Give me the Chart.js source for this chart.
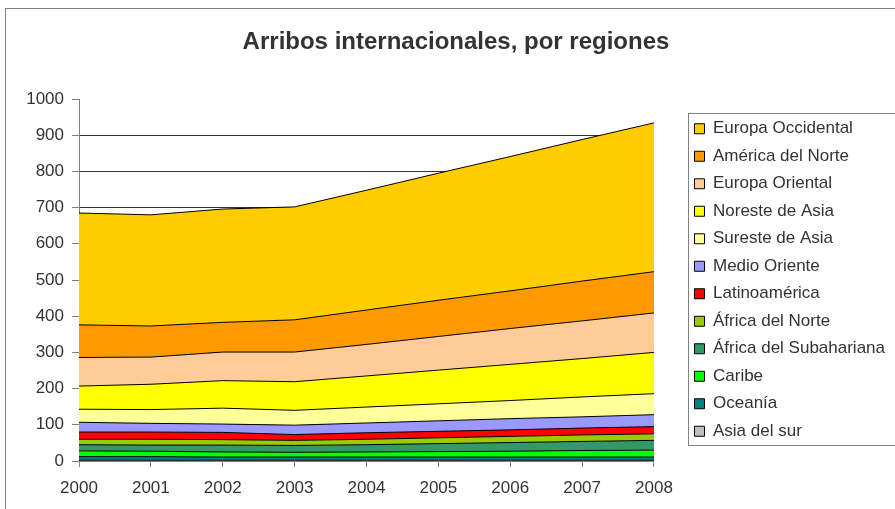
<!DOCTYPE html>
<html>
<head>
<meta charset="utf-8">
<script src="https://cdn.jsdelivr.net/npm/chart.js@4"></script>
<style>
	body{margin:0;background:#fff;}
	#wrap{position:absolute;left:0;top:0;width:895px;height:509px;}
</style>
</head>
<body>
<div id="wrap"><canvas id="grafik-arribos"></canvas></div>
<script>
// datos (millones de arribos, aprox.)
const years = ['2000','2001','2002','2003','2004','2005','2006','2007','2008'];
const asiaSur      = [2, 2, 2, 2, 2, 2, 2, 2, 2];
const oceania      = [10, 10, 9, 9, 9, 9, 9, 9, 9];
const caribe       = [16, 15, 14, 13, 14, 15, 16, 18, 19];
const africaSub    = [17, 17, 19, 19, 20, 22, 24, 25, 27];
const africaNorte  = [15, 16, 15, 14, 15, 16, 17, 18, 18];
const latino       = [20, 20, 20, 16, 18, 18, 18, 19, 20];
const medioOriente = [27, 24, 23, 26, 27, 29, 31, 31, 33];
const suresteAsia  = [36, 38, 44, 41, 44, 47, 50, 55, 58];
const noresteAsia  = [64, 70, 76, 79, 86, 93, 100, 106, 114];
const europaOr     = [79, 75, 79, 82, 87, 93, 99, 104, 109];
const americaNorte = [90, 86, 82, 89, 95, 100, 104, 110, 114];
const europaOcc    = [309, 307, 313, 312, 331, 351, 371, 391, 411];
const yTicks = [0, 100, 200, 300, 400, 500, 600, 700, 800, 900, 1000];

const series = [
	['Asia del sur', asiaSur, '#C0C0C0'],
	['Oceanía', oceania, '#008080'],
	['Caribe', caribe, '#00FF00'],
	['África del Subahariana', africaSub, '#339966'],
	['África del Norte', africaNorte, '#99CC00'],
	['Latinoamérica', latino, '#FF0000'],
	['Medio Oriente', medioOriente, '#9999FF'],
	['Sureste de Asia', suresteAsia, '#FFFF99'],
	['Noreste de Asia', noresteAsia, '#FFFF00'],
	['Europa Oriental', europaOr, '#FFCC99'],
	['América del Norte', americaNorte, '#FF9900'],
	['Europa Occidental', europaOcc, '#FFCC00']
];

const FONT = "'Liberation Sans', Arial, sans-serif";

const frame = {
	id: 'frame',
	beforeDraw(chart) {
		const c = chart.ctx;
		c.save();
		c.fillStyle = '#fff';
		c.fillRect(0, 0, chart.width, chart.height);
		c.restore();
	},
	afterDraw(chart) {
		const c = chart.ctx;
		c.save();
		c.strokeStyle = '#808080';
		c.lineWidth = 1;
		c.strokeRect(5.5, 8.5, 1000, 1000);
		// caja de la leyenda
		const hb = chart.legend.legendHitBoxes;
		if (hb && hb.length) {
			const l = Math.min(...hb.map(h => h.left)) - 6;
			const t = Math.min(...hb.map(h => h.top)) - 7.5;
			const b = Math.max(...hb.map(h => h.top + h.height)) + 4.5;
			c.strokeRect(Math.round(l) + 0.5, Math.round(t) + 0.5, 400, Math.round(b - t));
		}
		c.restore();
	}
};

make_chart = () => {
	const ctx = document.getElementById('grafik-arribos');
	new Chart(ctx, {
		type: 'line',
		data: {
			labels: years,
			datasets: series.map((s, i) => ({
				label: s[0],
				data: s[1],
				backgroundColor: s[2],
				borderColor: '#000',
				borderWidth: 1,
				pointRadius: 0,
				tension: 0,
				fill: i === 0 ? 'origin' : '-1'
			}))
		},
		options: {
			responsive: true,
			maintainAspectRatio: false,
			animation: false,
			layout: { padding: { left: 17, right: 0, top: 0, bottom: 0 } },
			plugins: {
				title: {
					display: true,
					text: 'Arribos internacionales, por regiones',
					color: '#333',
					font: { family: FONT, size: 24, weight: 'bold' },
					padding: { top: 27.6, bottom: 42.6 }
				},
				legend: {
					position: 'right',
					fullSize: false,
					reverse: true,
					maxWidth: 260,
					labels: {
						color: '#333',
						font: { family: FONT, size: 17 },
						boxWidth: 10,
						boxHeight: 10,
						padding: 10.5
					}
				},
				tooltip: { enabled: false }
			},
			scales: {
				x: {
					offset: false,
					grid: { drawOnChartArea: false, tickLength: 6, color: '#808080' },
					border: { color: '#808080' },
					ticks: { color: '#333', font: { family: FONT, size: 17 }, padding: 11, maxRotation: 0 },
					afterFit: (s) => { s.height = 48; }
				},
				y: {
					stacked: true,
					min: 0,
					max: 1000,
					afterBuildTicks: (s) => { s.ticks = yTicks.map(v => ({ value: v })); },
					grid: {
						color: (c) => c.tick && c.tick.value === 1000 ? 'rgba(0,0,0,0)' : '#333',
						tickColor: '#808080',
						tickLength: 7
					},
					border: { color: '#808080' },
					ticks: {
						color: '#333',
						font: { family: FONT, size: 17 },
						padding: 8,
						callback: (v) => String(v)
					},
					afterFit: (s) => { s.width = 62; }
				},
				y2: {
					position: 'right',
					display: true,
					grid: { display: false },
					border: { display: false },
					ticks: { display: false },
					afterFit: (s) => { s.width = 30; }
				}
			}
		},
		plugins: [frame]
	});
}

make_chart();
</script>
</body>
</html>
